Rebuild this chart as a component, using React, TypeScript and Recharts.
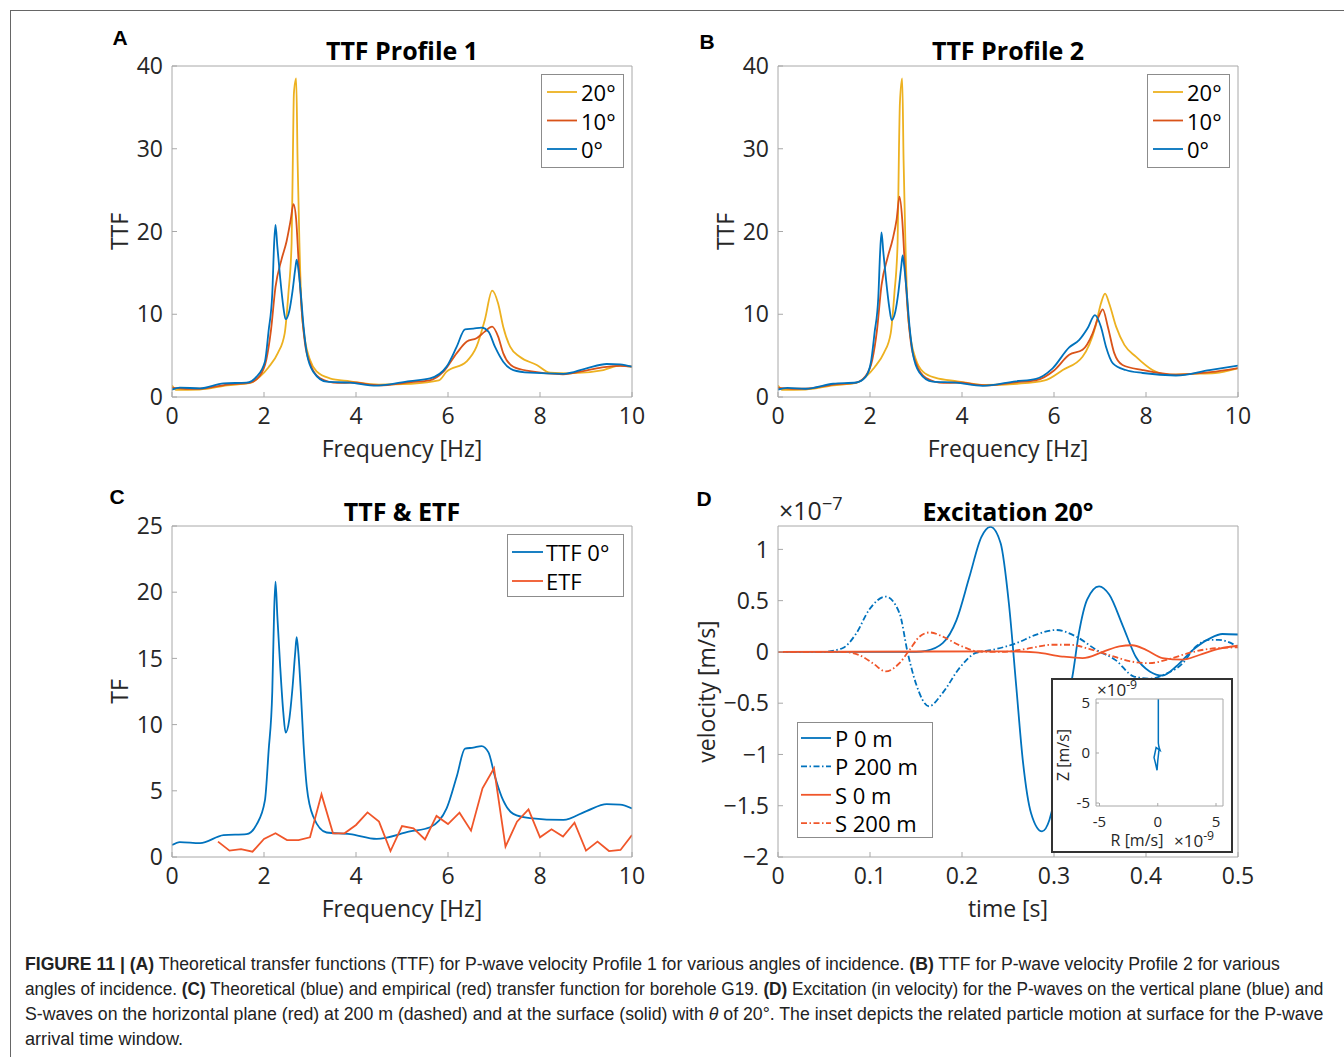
import React, { useLayoutEffect, useRef, useState } from "react";
import { LineChart, Line, XAxis, YAxis } from "recharts";

const FONT = '"Open Sans", "Noto Sans", sans-serif';
const CAPTION_FONT = '"Liberation Sans", Arial, sans-serif';
const BLUE = "#0072BD";
const RED = "#D95319";
const RED_BRIGHT = "#F0562A";
const YELLOW = "#EDB120";
const AXIS = "#a8a8a8";
const INK = "#262626";
const FS = 23; // axis text size
const LFS = 22; // legend text size

// tick values
const freqTicks = [0, 2, 4, 6, 8, 10];
const ttfTicks = [0, 10, 20, 30, 40];
const tfTicks = [0, 5, 10, 15, 20, 25];
const timeTicks = [0, 0.1, 0.2, 0.3, 0.4, 0.5];
const velTicks = [-2, -1.5, -1, -0.5, 0, 0.5, 1];
const insetTicks = [-5, 0, 5];

// A: TTF profile 1
const freqA0 = [0, 0.17, 0.61, 1.12, 1.62, 1.84, 2.02, 2.1, 2.18, 2.22, 2.25, 2.29, 2.35, 2.42, 2.47, 2.55, 2.62, 2.68, 2.71, 2.75, 2.8, 2.86, 2.93, 3.07, 3.36, 3.87, 4.45, 5.17, 5.61, 5.97, 6.19, 6.37, 6.55, 6.73, 6.88, 7.02, 7.2, 7.42, 7.78, 8.51, 9.01, 9.45, 9.74, 10];
const ttfA0 = [0.9, 1.13, 1.05, 1.65, 1.73, 2.46, 4.27, 8.0, 12.5, 18.5, 20.8, 18.2, 14.5, 10.9, 9.4, 10.4, 12.8, 15.5, 16.6, 15.3, 12.5, 8.5, 5.3, 3.06, 1.85, 1.73, 1.37, 1.93, 2.25, 3.67, 6.08, 8.18, 8.26, 8.38, 7.9, 6.08, 4.27, 3.26, 2.94, 2.8, 3.47, 3.99, 3.95, 3.66];
const freqA10 = [0, 0.3, 0.6, 1.2, 1.7, 1.9, 2.05, 2.15, 2.25, 2.38, 2.49, 2.58, 2.64, 2.7, 2.75, 2.82, 2.89, 3.0, 3.22, 3.6, 3.9, 4.5, 5.2, 5.6, 5.9, 6.19, 6.41, 6.62, 6.8, 6.96, 7.09, 7.2, 7.42, 7.78, 8.5, 9.0, 9.4, 9.74, 10];
const ttfA10 = [1.1, 1.0, 1.0, 1.5, 1.75, 2.5, 4.5, 8.0, 13.3, 16.6, 18.8, 21.4, 23.3, 21.4, 16.6, 10.5, 6.5, 4.07, 2.26, 1.7, 1.75, 1.4, 1.8, 2.0, 3.06, 5.3, 6.7, 7.1, 7.9, 8.5, 7.3, 5.3, 3.66, 3.13, 2.75, 3.2, 3.6, 3.75, 3.66];
const freqA20 = [0, 0.1, 0.6, 1.2, 1.7, 1.9, 2.1, 2.3, 2.45, 2.53, 2.6, 2.63, 2.65, 2.7, 2.73, 2.77, 2.82, 2.87, 3.0, 3.15, 3.43, 3.87, 4.5, 5.2, 5.8, 5.97, 6.4, 6.62, 6.8, 6.96, 7.09, 7.2, 7.35, 7.56, 7.93, 8.22, 8.65, 9.38, 9.74, 10];
const ttfA20 = [1.4, 0.85, 0.9, 1.4, 1.7, 2.4, 3.6, 5.3, 7.7, 12.5, 18.6, 30, 36.7, 38.5, 28.6, 18.6, 10.5, 7.7, 4.5, 3.06, 2.26, 1.9, 1.5, 1.6, 2.0, 3.06, 4.27, 6.08, 9.3, 12.85, 11.3, 8.5, 6.08, 4.87, 3.87, 2.94, 2.86, 3.26, 3.8, 3.66];

// B: TTF profile 2
const freqB0 = [0, 0.2, 0.6, 1.2, 1.7, 1.9, 2.02, 2.1, 2.18, 2.22, 2.25, 2.29, 2.35, 2.42, 2.47, 2.55, 2.62, 2.68, 2.71, 2.75, 2.8, 2.86, 2.93, 3.07, 3.36, 3.87, 4.45, 5.17, 5.61, 5.97, 6.33, 6.55, 6.73, 6.89, 7.02, 7.13, 7.28, 7.56, 7.93, 8.65, 9.38, 10];
const ttfB0 = [0.9, 1.1, 1.0, 1.6, 1.75, 2.4, 4.2, 7.8, 12.0, 17.5, 19.9, 17.5, 14.1, 10.8, 9.3, 10.3, 12.8, 15.8, 17.1, 15.5, 12.5, 8.5, 5.3, 3.0, 1.85, 1.73, 1.35, 1.9, 2.2, 3.47, 6.0, 6.9, 8.3, 9.9, 8.5, 6.08, 4.07, 3.26, 2.9, 2.6, 3.26, 3.8];
const freqB10 = [0, 0.3, 0.6, 1.2, 1.7, 1.9, 2.05, 2.15, 2.25, 2.38, 2.49, 2.58, 2.64, 2.7, 2.75, 2.82, 2.89, 3.0, 3.22, 3.6, 3.9, 4.5, 5.2, 5.6, 6.0, 6.33, 6.62, 6.84, 6.97, 7.06, 7.17, 7.31, 7.49, 7.93, 8.65, 9.4, 10];
const ttfB10 = [1.1, 1.0, 1.0, 1.5, 1.75, 2.5, 4.5, 8.0, 13.5, 16.8, 19.0, 21.5, 24.2, 21.5, 16.6, 10.5, 6.5, 4.1, 2.3, 1.7, 1.75, 1.4, 1.8, 2.0, 3.2, 5.1, 5.7, 7.7, 9.7, 10.6, 8.5, 5.3, 3.87, 3.26, 2.7, 3.0, 3.5];
const freqB20 = [0, 0.1, 0.6, 1.2, 1.7, 1.9, 2.1, 2.3, 2.45, 2.53, 2.6, 2.63, 2.65, 2.7, 2.73, 2.77, 2.82, 2.87, 3.0, 3.15, 3.43, 3.9, 4.5, 5.2, 5.8, 6.19, 6.62, 6.9, 7.02, 7.11, 7.2, 7.35, 7.53, 7.78, 8.14, 8.51, 9.0, 9.5, 10];
const ttfB20 = [1.4, 0.85, 0.9, 1.4, 1.7, 2.4, 3.6, 5.3, 7.7, 12.5, 18.6, 30, 35.5, 38.5, 28.6, 18.6, 10.5, 7.7, 4.5, 3.06, 2.3, 1.9, 1.45, 1.6, 2.0, 3.26, 4.87, 8.5, 11.3, 12.5, 11.3, 8.5, 6.3, 4.87, 3.26, 2.7, 2.8, 2.9, 3.47];

// C: empirical transfer function (TTF 0° reuses profile 1)
const freqEtf = [1.0, 1.25, 1.5, 1.75, 2.0, 2.25, 2.5, 2.75, 3.0, 3.25, 3.5, 3.75, 4.0, 4.25, 4.5, 4.75, 5.0, 5.25, 5.5, 5.75, 6.0, 6.25, 6.5, 6.75, 7.0, 7.25, 7.5, 7.75, 8.0, 8.25, 8.5, 8.75, 9.0, 9.25, 9.5, 9.75, 10.0];
const etf = [1.16, 0.48, 0.6, 0.4, 1.36, 1.79, 1.28, 1.28, 1.49, 4.73, 1.79, 1.79, 2.42, 3.37, 2.67, 0.45, 2.34, 2.17, 1.33, 3.1, 2.49, 3.35, 1.99, 5.19, 6.7, 0.78, 2.67, 3.6, 1.49, 2.09, 1.54, 2.59, 0.48, 1.16, 0.45, 0.53, 1.66];

// D: excitation at 20°, velocity in 1e-7 m/s
const timeP0 = [0, 0.15, 0.161, 0.179, 0.194, 0.208, 0.221, 0.231, 0.242, 0.251, 0.259, 0.266, 0.275, 0.287, 0.295, 0.3, 0.305, 0.31, 0.315, 0.32, 0.327, 0.336, 0.349, 0.36, 0.375, 0.389, 0.404, 0.418, 0.433, 0.451, 0.469, 0.483, 0.5];
const velP0 = [0, 0, 0.01, 0.085, 0.31, 0.73, 1.12, 1.22, 1.06, 0.47, -0.34, -1.05, -1.57, -1.75, -1.64, -1.44, -1.0, -0.7, -0.45, -0.24, 0.18, 0.51, 0.64, 0.56, 0.25, -0.05, -0.19, -0.23, -0.14, 0.02, 0.13, 0.175, 0.17];
const timeP200 = [0, 0.048, 0.07, 0.085, 0.099, 0.117, 0.132, 0.141, 0.15, 0.164, 0.179, 0.197, 0.215, 0.233, 0.259, 0.28, 0.302, 0.324, 0.346, 0.367, 0.387, 0.405, 0.42, 0.44, 0.454, 0.469, 0.479, 0.5];
const velP200 = [0, 0, 0.036, 0.18, 0.41, 0.54, 0.38, -0.01, -0.31, -0.53, -0.4, -0.16, -0.01, 0.02, 0.085, 0.166, 0.214, 0.15, 0.02, -0.08, -0.24, -0.26, -0.22, -0.11, 0.05, 0.118, 0.118, 0.05];
const timeS0 = [0, 0.25, 0.28, 0.309, 0.331, 0.353, 0.371, 0.385, 0.4, 0.418, 0.44, 0.458, 0.479, 0.5];
const velS0 = [0, 0.005, -0.005, -0.045, -0.06, 0, 0.055, 0.065, 0.02, -0.06, -0.075, -0.03, 0.03, 0.06];
const timeS200 = [0, 0.07, 0.088, 0.103, 0.117, 0.132, 0.143, 0.154, 0.165, 0.179, 0.197, 0.219, 0.244, 0.27, 0.298, 0.317, 0.338, 0.36, 0.382, 0.404, 0.425, 0.447, 0.469, 0.5];
const velS200 = [0, 0, -0.03, -0.11, -0.19, -0.11, 0.02, 0.15, 0.19, 0.15, 0.066, 0.004, 0, 0.03, 0.07, 0.07, 0.03, -0.03, -0.09, -0.11, -0.07, -0.01, 0.03, 0.045];

// inset: particle motion, 1e-9 m/s
const motionR = [0.05, 0.05, 0.1, 0.2, -0.14, -0.32, -0.2, -0.06, 0.0, 0.1];
const motionZ = [8, 1.0, 0.6, 0.27, 0.54, -0.46, -1.0, -1.73, -0.8, 0.27];

type Series = {
  name: string;
  x: number[];
  y: number[];
  color: string;
  dash?: string;
  curve?: "monotone" | "linear";
};

const pairs = (x: number[], y: number[]) => x.map((v, i) => ({ x: v, y: y[i] }));
const fmtMinus = (v: number) => String(v).replace("-", "\u2212");

const seriesA: Series[] = [
  { name: "20°", x: freqA20, y: ttfA20, color: YELLOW },
  { name: "10°", x: freqA10, y: ttfA10, color: RED },
  { name: "0°", x: freqA0, y: ttfA0, color: BLUE },
];
const seriesB: Series[] = [
  { name: "20°", x: freqB20, y: ttfB20, color: YELLOW },
  { name: "10°", x: freqB10, y: ttfB10, color: RED },
  { name: "0°", x: freqB0, y: ttfB0, color: BLUE },
];
const seriesC: Series[] = [
  { name: "TTF 0°", x: freqA0, y: ttfA0, color: BLUE },
  { name: "ETF", x: freqEtf, y: etf, color: RED_BRIGHT, curve: "linear" },
];
const DASHDOT = "6 2.5 1.5 2.5";
const seriesD: Series[] = [
  { name: "P 0 m", x: timeP0, y: velP0, color: BLUE },
  { name: "P 200 m", x: timeP200, y: velP200, color: BLUE, dash: DASHDOT },
  { name: "S 0 m", x: timeS0, y: velS0, color: RED_BRIGHT },
  { name: "S 200 m", x: timeS200, y: velS200, color: RED_BRIGHT, dash: DASHDOT },
];

// chart frame around each plot area
const YW = 100; // left axis band
const XH = 70; // bottom axis band
const PT = 20; // space above plot
const PR = 30; // space right of plot

type PanelProps = {
  left: number;
  top: number;
  width: number;
  height: number;
  xDomain: [number, number];
  yDomain: [number, number];
  xTicks: number[];
  yTicks: number[];
  series: Series[];
  xLabel: string;
  yLabel: string;
  yLabelX: number; // page x of the rotated y label centre
};

function Panel(p: PanelProps) {
  const tickStyle = { fill: INK, fontSize: FS, fontFamily: FONT };
  const midY = PT + p.height / 2;
  const lx = p.yLabelX - (p.left - YW);
  return (
    <div style={{ position: "absolute", left: p.left - YW, top: p.top - PT }}>
      <LineChart
        width={YW + p.width + PR}
        height={PT + p.height + XH}
        margin={{ top: PT - 1, right: PR - 1, bottom: 0, left: 0 }}
      >
        <XAxis
          xAxisId="b"
          dataKey="x"
          type="number"
          domain={p.xDomain}
          ticks={p.xTicks}
          interval={0}
          allowDataOverflow
          height={XH}
          stroke={AXIS}
          tickSize={-5}
          tickMargin={16}
          tick={tickStyle}
          tickFormatter={fmtMinus}
          label={() => (
            <text
              x={YW + p.width / 2}
              y={PT + p.height + 51}
              textAnchor="middle"
              dominantBaseline="central"
              fontSize={FS}
              fontFamily={FONT}
              fill={INK}
            >
              {p.xLabel}
            </text>
          )}
        />
        <XAxis
          xAxisId="t"
          orientation="top"
          type="number"
          domain={p.xDomain}
          ticks={p.xTicks}
          interval={0}
          allowDataOverflow
          height={1}
          stroke={AXIS}
          tickSize={-5}
          tick={false}
        />
        <YAxis
          yAxisId="l"
          type="number"
          domain={p.yDomain}
          ticks={p.yTicks}
          interval={0}
          allowDataOverflow
          width={YW}
          stroke={AXIS}
          tickSize={-5}
          tickMargin={14}
          tick={tickStyle}
          tickFormatter={fmtMinus}
          label={() => (
            <text
              x={lx}
              y={midY}
              transform={`rotate(-90 ${lx} ${midY})`}
              textAnchor="middle"
              dominantBaseline="central"
              fontSize={FS}
              fontFamily={FONT}
              fill={INK}
            >
              {p.yLabel}
            </text>
          )}
        />
        <YAxis
          yAxisId="r"
          orientation="right"
          type="number"
          domain={p.yDomain}
          ticks={p.yTicks}
          interval={0}
          allowDataOverflow
          width={1}
          stroke={AXIS}
          tickSize={-5}
          tick={false}
        />
        {p.series.map((s) => (
          <Line
            key={s.name}
            xAxisId="b"
            yAxisId="l"
            data={pairs(s.x, s.y)}
            dataKey="y"
            name={s.name}
            type={s.curve || "monotone"}
            stroke={s.color}
            strokeWidth={1.8}
            strokeDasharray={s.dash}
            dot={false}
            activeDot={false}
            isAnimationActive={false}
          />
        ))}
      </LineChart>
    </div>
  );
}

function Inset() {
  const tickStyle = { fill: INK, fontSize: 15, fontFamily: FONT };
  return (
    <div
      style={{
        position: "absolute",
        left: 1051,
        top: 678,
        width: 182,
        height: 175,
        boxSizing: "border-box",
        border: "2px solid #333",
        background: "#fff",
      }}
    >
      <LineChart width={178} height={171} margin={{ top: 18, right: 7, bottom: 0, left: 13 }}>
        <XAxis
          xAxisId="b"
          dataKey="x"
          type="number"
          domain={[-5.3, 5.6]}
          ticks={insetTicks}
          interval={0}
          allowDataOverflow
          height={45}
          stroke={AXIS}
          tickSize={-3}
          tickMargin={13}
          tick={tickStyle}
          label={() => (
            <text x={84} y={160} textAnchor="middle" dominantBaseline="central" fontSize={16} fontFamily={FONT} fill={INK}>
              R [m/s]
            </text>
          )}
        />
        <XAxis xAxisId="t" orientation="top" type="number" domain={[-5.3, 5.6]} ticks={insetTicks} interval={0}
          allowDataOverflow height={1} stroke={AXIS} tickSize={-3} tick={false} />
        <YAxis
          yAxisId="l"
          type="number"
          domain={[-5.3, 5.4]}
          ticks={insetTicks}
          interval={0}
          allowDataOverflow
          width={30}
          stroke={AXIS}
          tickSize={-3}
          tickMargin={9}
          tick={tickStyle}
          label={() => (
            <text x={10} y={75} transform="rotate(-90 10 75)" textAnchor="middle" dominantBaseline="central"
              fontSize={16} fontFamily={FONT} fill={INK}>
              Z [m/s]
            </text>
          )}
        />
        <YAxis yAxisId="r" orientation="right" type="number" domain={[-5.3, 5.4]} ticks={insetTicks} interval={0}
          allowDataOverflow width={1} stroke={AXIS} tickSize={-3} tick={false} />
        <Line
          xAxisId="b"
          yAxisId="l"
          data={pairs(motionR, motionZ)}
          dataKey="y"
          type="linear"
          stroke={BLUE}
          strokeWidth={1.5}
          dot={false}
          activeDot={false}
          isAnimationActive={false}
        />
      </LineChart>
      <Exp left={44} top={0} size={17} exp="-9" />
      <Exp left={121} top={151} size={17} exp="-9" />
    </div>
  );
}

function Exp({ left, top, size, exp }: { left: number; top: number; size: number; exp: string }) {
  return (
    <div style={{ position: "absolute", left, top, fontSize: size, fontFamily: FONT, color: INK, whiteSpace: "nowrap", lineHeight: 1.2 }}>
      ×10<span style={{ fontSize: size * 0.72, position: "relative", top: -size * 0.4 }}>{exp}</span>
    </div>
  );
}

function Centered({ x, y, children, size = 25, bold = false, font = FONT }: any) {
  return (
    <div
      style={{
        position: "absolute",
        left: x,
        top: y,
        transform: "translate(-50%, -50%)",
        whiteSpace: "nowrap",
        fontSize: size,
        fontWeight: bold ? 700 : 400,
        fontFamily: font,
        color: "#000",
        lineHeight: 1,
      }}
    >
      {children}
    </div>
  );
}

type LegendProps = {
  left: number;
  top: number;
  width: number;
  height: number;
  series: Series[];
  firstY: number;
  step: number;
  lineX0: number;
  lineX1: number;
  textX: number;
};

function LegendBox(p: LegendProps) {
  return (
    <div
      style={{
        position: "absolute",
        left: p.left,
        top: p.top,
        width: p.width,
        height: p.height,
        boxSizing: "border-box",
        border: "1px solid #8c8c8c",
        background: "#fff",
      }}
    >
      <svg width={p.width} height={p.height} style={{ position: "absolute", left: -1, top: -1 }}>
        {p.series.map((s, i) => {
          const cy = p.firstY - p.top + i * p.step;
          return (
            <g key={s.name}>
              <line x1={p.lineX0 - p.left} x2={p.lineX1 - p.left} y1={cy} y2={cy} stroke={s.color} strokeWidth={1.8}
                strokeDasharray={s.dash} />
              <text x={p.textX - p.left} y={cy} dominantBaseline="central" fontSize={LFS} fontFamily={FONT} fill="#000">
                {s.name}
              </text>
            </g>
          );
        })}
      </svg>
    </div>
  );
}

// caption line squeezed to the width it has in the figure
function CaptionLine({ top, width, children }: { top: number; width: number; children: React.ReactNode }) {
  const ref = useRef<HTMLDivElement>(null);
  const [scale, setScale] = useState(1);
  useLayoutEffect(() => {
    if (ref.current) {
      const natural = ref.current.scrollWidth;
      if (natural > 0) setScale(width / natural);
    }
  }, [width]);
  return (
    <div
      ref={ref}
      style={{
        position: "absolute",
        left: 25,
        top,
        whiteSpace: "nowrap",
        fontSize: 18,
        lineHeight: "22px",
        fontFamily: CAPTION_FONT,
        color: "#222",
        transform: `scaleX(${scale})`,
        transformOrigin: "left center",
      }}
    >
      {children}
    </div>
  );
}

export default function App() {
  return (
    <div
      style={{
        position: "absolute",
        left: 0,
        top: 0,
        width: 1344,
        height: 1057,
        overflow: "hidden",
        background: "#fff",
        fontFamily: FONT,
      }}
    >
      <div style={{ position: "absolute", left: 10, top: 10, width: 1400, height: 1100, border: "1.5px solid #666" }} />

      <Panel left={172} top={66} width={460} height={331} xDomain={[0, 10]} yDomain={[0, 40]}
        xTicks={freqTicks} yTicks={ttfTicks} series={seriesA} xLabel="Frequency [Hz]" yLabel="TTF" yLabelX={119} />
      <Panel left={778} top={66} width={460} height={331} xDomain={[0, 10]} yDomain={[0, 40]}
        xTicks={freqTicks} yTicks={ttfTicks} series={seriesB} xLabel="Frequency [Hz]" yLabel="TTF" yLabelX={725} />
      <Panel left={172} top={526} width={460} height={331} xDomain={[0, 10]} yDomain={[0, 25]}
        xTicks={freqTicks} yTicks={tfTicks} series={seriesC} xLabel="Frequency [Hz]" yLabel="TF" yLabelX={119} />
      <Panel left={778} top={526} width={460} height={331} xDomain={[0, 0.5]} yDomain={[-2, 1.228]}
        xTicks={timeTicks} yTicks={velTicks} series={seriesD} xLabel="time [s]" yLabel="velocity [m/s]" yLabelX={706} />

      <Centered x={402} y={50} bold>TTF Profile 1</Centered>
      <Centered x={1008} y={50} bold>TTF Profile 2</Centered>
      <Centered x={402} y={511} bold>TTF &amp; ETF</Centered>
      <Centered x={1008} y={511} bold>Excitation 20°</Centered>

      <Centered x={120} y={37} size={21} bold font={CAPTION_FONT}>A</Centered>
      <Centered x={707} y={41} size={21} bold font={CAPTION_FONT}>B</Centered>
      <Centered x={117} y={496} size={21} bold font={CAPTION_FONT}>C</Centered>
      <Centered x={704} y={498} size={21} bold font={CAPTION_FONT}>D</Centered>

      <Exp left={779} top={495} size={25} exp="−7" />

      <LegendBox left={541} top={74} width={83} height={94} series={seriesA} firstY={92} step={28.5}
        lineX0={547} lineX1={577} textX={581} />
      <LegendBox left={1147} top={74} width={83} height={94} series={seriesB} firstY={92} step={28.5}
        lineX0={1153} lineX1={1183} textX={1187} />
      <LegendBox left={507} top={534} width={117} height={63} series={seriesC} firstY={552} step={29}
        lineX0={512} lineX1={543} textX={546} />
      <LegendBox left={797} top={722} width={136} height={116} series={seriesD} firstY={738} step={28.4}
        lineX0={801} lineX1={831} textX={835} />

      <Inset />

      <CaptionLine top={953} width={1255}>
        <b>FIGURE 11 | (A)</b> Theoretical transfer functions (TTF) for P-wave velocity Profile 1 for various angles of
        incidence. <b>(B)</b> TTF for P-wave velocity Profile 2 for various
      </CaptionLine>
      <CaptionLine top={978} width={1298}>
        angles of incidence. <b>(C)</b> Theoretical (blue) and empirical (red) transfer function for borehole G19.{" "}
        <b>(D)</b> Excitation (in velocity) for the P-waves on the vertical plane (blue) and
      </CaptionLine>
      <CaptionLine top={1003} width={1298}>
        S-waves on the horizontal plane (red) at 200 m (dashed) and at the surface (solid) with <i>θ</i> of 20°. The
        inset depicts the related particle motion at surface for the P-wave
      </CaptionLine>
      <CaptionLine top={1028} width={158}>
        arrival time window.
      </CaptionLine>
    </div>
  );
}
